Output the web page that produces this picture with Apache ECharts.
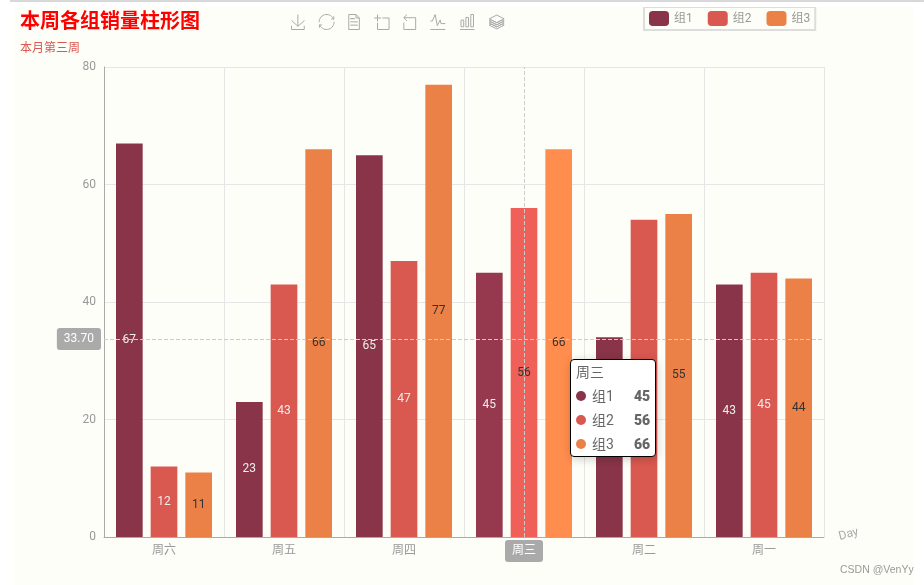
<!DOCTYPE html>
<html>
<head>
<meta charset="utf-8">
<script src="https://cdn.jsdelivr.net/npm/echarts@6/dist/echarts.min.js"></script>
<style>
html, body { margin: 0; padding: 0; background: #fff; width: 924px; height: 585px; overflow: hidden; }
#topline { position: absolute; left: 10px; top: 0; width: 914px; height: 2px; background: #d8d8d8; }
#chart { position: absolute; left: 14px; top: 7px; width: 900px; height: 578px; }
</style>
</head>
<body>
<div id="topline"></div>
<div id="chart"></div>
<script>
var days = ['周六', '周五', '周四', '周三', '周二', '周一'];
var group1 = [67, 23, 65, 45, 34, 43];
var group2 = [12, 43, 47, 56, 54, 45];
var group3 = [11, 66, 77, 66, 55, 44];
var yTicks = [0, 20, 40, 60, 80];

var fontName = 'Roboto, "Noto Sans CJK SC", sans-serif';
var myChart = echarts.init(document.getElementById('chart'));

function barSeries(name, data) {
    return {
        name: name,
        type: 'bar',
        data: data,
        barGap: '30%',
        barCategoryGap: '20%',
        label: { show: true, position: 'inside', fontSize: 12, fontFamily: fontName }
    };
}

var options = {
    animation: false,
    backgroundColor: '#fefef8',
    color: ['#893448', '#d95850', '#eb8146'],
    textStyle: { fontFamily: fontName },
    title: {
        text: '本周各组销量柱形图',
        subtext: '本月第三周',
        left: 1,
        top: 1,
        itemGap: 10,
        textStyle: { color: '#ff0000', fontSize: 20, fontWeight: 'bold' },
        subtextStyle: { color: '#d95850', fontSize: 12 }
    },
    toolbox: {
        show: true,
        left: 275,
        top: 5,
        padding: 0,
        itemSize: 15,
        itemGap: 9.7,
        iconStyle: { borderColor: '#aaaaaa' },
        feature: {
            saveAsImage: { title: ' ' },
            restore: { title: ' ' },
            dataView: { title: ' ' },
            dataZoom: { yAxisIndex: 'none', title: { zoom: ' ', back: ' ' } },
            magicType: { type: ['line', 'bar', 'stack'], title: { line: ' ', bar: ' ', stack: ' ' } }
        }
    },
    legend: {
        data: ['组1', '组2', '组3'],
        left: 630,
        top: 0,
        itemWidth: 20,
        itemHeight: 15,
        itemGap: 15,
        padding: [4, 5, 4, 5],
        borderColor: '#dddddd',
        borderWidth: 2,
        icon: 'roundRect',
        textStyle: { color: '#999999', fontSize: 12 }
    },
    tooltip: {
        trigger: 'axis',
        position: [556, 352],
        padding: 5,
        backgroundColor: '#ffffff',
        borderColor: '#000000',
        borderWidth: 1,
        textStyle: { color: '#666666', fontSize: 14 },
        axisPointer: {
            type: 'cross',
            lineStyle: { color: '#cccccc', type: 'dashed' },
            crossStyle: { color: '#cccccc', type: 'dashed' },
            label: { backgroundColor: '#aaaaaa', color: '#ffffff' }
        }
    },
    grid: { left: 90, right: 90, top: 60, bottom: 48 },
    xAxis: {
        type: 'category',
        data: days,
        name: 'Day',
        nameGap: 15,
        nameRotate: 15,
        nameTextStyle: { color: '#aaaaaa', fontSize: 12 },
        axisLine: { lineStyle: { color: '#aaaaaa' } },
        axisTick: { show: false },
        axisLabel: { color: '#999999', fontSize: 12, margin: 8 },
        splitLine: { show: true, lineStyle: { color: '#e6e6e6' } }
    },
    yAxis: {
        type: 'value',
        min: yTicks[0],
        max: yTicks[yTicks.length - 1],
        interval: yTicks[1] - yTicks[0],
        axisLine: { show: true, lineStyle: { color: '#aaaaaa' } },
        axisTick: { show: false },
        axisLabel: { color: '#999999', fontSize: 12, margin: 8 },
        splitLine: { show: true, lineStyle: { color: '#e6e6e6' } }
    },
    graphic: [{
        type: 'text',
        left: 826,
        top: 558,
        style: { text: 'CSDN @VenYy', fill: '#999999', fontSize: 10.5, fontFamily: 'Liberation Sans, sans-serif' }
    }],
    series: [barSeries('组1', group1), barSeries('组2', group2), barSeries('组3', group3)]
};
myChart.setOption(options);

// 悬停在周三上的状态
myChart.dispatchAction({ type: 'showTip', x: 510, y: 332 });
</script>
</body>
</html>
